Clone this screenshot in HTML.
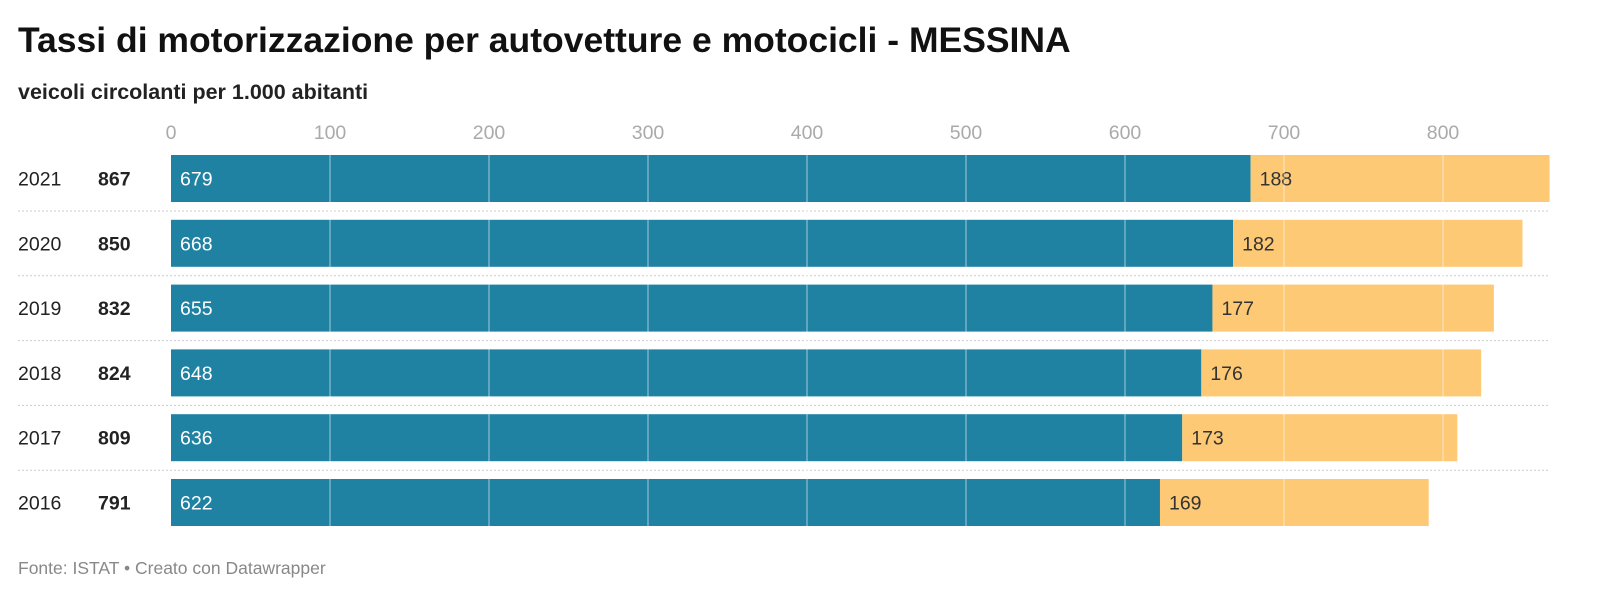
<!DOCTYPE html>
<html><head><meta charset="utf-8"><style>
body{margin:0;background:#fff;width:1600px;height:609px;overflow:hidden;font-family:"Liberation Sans",sans-serif}
</style></head><body>
<svg id="c" width="1600" height="609" xmlns="http://www.w3.org/2000/svg">
<text x="18" y="52" font-size="35.5" font-weight="bold" fill="#111">Tassi di motorizzazione per autovetture e motocicli - MESSINA</text>
<text x="18" y="99" font-size="21.5" font-weight="bold" fill="#222">veicoli circolanti per 1.000 abitanti</text>
<text x="18" y="574" font-size="17.5" fill="#888">Fonte: ISTAT • Creato con Datawrapper</text>
<g id="plot"></g>
</svg>
<script>
const years=["2021","2020","2019","2018","2017","2016"];
const cars=[679,668,655,648,636,622];
const motos=[188,182,177,176,173,169];
const ticks=[0,100,200,300,400,500,600,700,800];
const NS="http://www.w3.org/2000/svg";
const g=document.getElementById('plot');
const x0=171,k=1.59,top0=155,pitch=64.8,bh=47;
const X=v=>x0+v*k;
const Y=i=>top0+i*pitch;
function mk(t,a){const e=document.createElementNS(NS,t);for(const n in a)e.setAttribute(n,a[n]);g.appendChild(e);return e;}
years.forEach((yr,i)=>{
  const y=Y(i);
  let r=mk('rect',{x:X(0),y:y,width:X(cars[i])-X(0),height:bh,fill:'#1f82a3'});
  
  
  r=mk('rect',{x:X(cars[i]),y:y,width:X(cars[i]+motos[i])-X(cars[i]),height:bh,fill:'#fdc975'});
  
  
  let t=mk('text',{x:18,y:y+bh/2+7,'font-size':19.5,fill:'#222'});t.textContent=yr;
  
  
  t=mk('text',{x:98,y:y+bh/2+7,'font-size':19.5,'font-weight':'bold',fill:'#222'});t.textContent=cars[i]+motos[i];
  
  
  t=mk('text',{x:X(0)+9,y:y+bh/2+7,'font-size':19.5,fill:'#fff'});t.textContent=cars[i];
  
  
  t=mk('text',{x:X(cars[i])+9,y:y+bh/2+7,'font-size':19.5,fill:'#333'});t.textContent=motos[i];
  
  
  if(i<years.length-1){
    const l=mk('line',{x1:18,x2:1549,y1:y+bh+9,y2:y+bh+9,stroke:'#ccc','stroke-dasharray':'2,2'});
    
    
  }
});
ticks.forEach(v=>{
  if(v>0){
    const l=mk('line',{x1:X(v),x2:X(v),y1:Y(0)-3,y2:Y(years.length-1)+bh,stroke:'rgba(255,255,255,0.45)','stroke-width':1.3});
    
    
  }
  const t=mk('text',{x:X(v),y:139,'font-size':19.5,fill:'#aaa','text-anchor':'middle'});t.textContent=v;
  
  
});
</script>
</body></html>
